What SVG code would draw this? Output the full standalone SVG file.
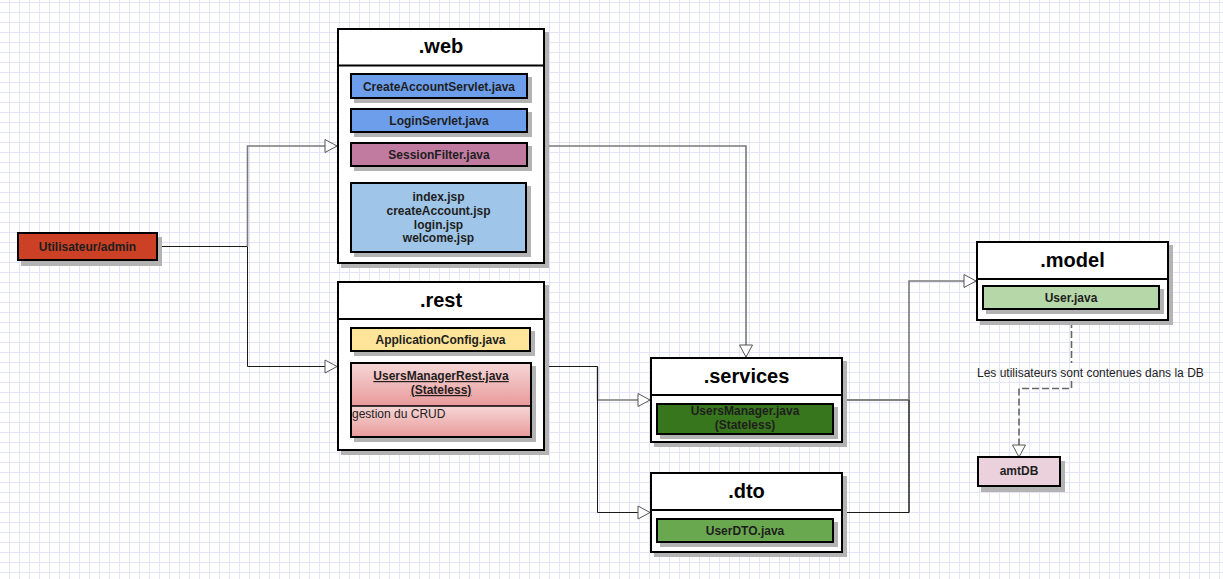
<svg xmlns="http://www.w3.org/2000/svg" width="1223" height="579" viewBox="0 0 1223 579">
<style>
.sh{fill:#b3b3b3}
.box{fill:#fff;stroke:#000;stroke-width:2}
.hl{stroke:#000;stroke-width:2}
.it{stroke:#000;stroke-width:2}
.hd{font-family:"Liberation Sans",Arial,sans-serif;font-weight:bold;font-size:20px;fill:#000;text-anchor:middle}
.t{font-family:"Liberation Sans",Arial,sans-serif;font-weight:bold;font-size:12px;fill:#1e1e1e;text-anchor:middle}
.r{font-family:"Liberation Sans",Arial,sans-serif;font-size:12px;fill:#222}
.cg{fill:none;stroke:#7a7a7a;stroke-width:1.6}
.cb{fill:none;stroke:#1a1a1a;stroke-width:1}
.cd{fill:none;stroke:#666;stroke-width:1.6;stroke-dasharray:7 3}
</style>
<defs>
<pattern id="grid" x="9" y="2" width="10" height="10" patternUnits="userSpaceOnUse">
<path d="M0.5,0 V10 M0,0.5 H10" stroke="#e4e4f8" stroke-width="1" fill="none"/>
</pattern>
<linearGradient id="pk" x1="0" y1="0" x2="0" y2="1">
<stop offset="0" stop-color="#f6d6d6"/>
<stop offset="1" stop-color="#e99a9a"/>
</linearGradient>
<marker id="ar" markerUnits="userSpaceOnUse" markerWidth="16" markerHeight="16" refX="13" refY="7.5" orient="auto" viewBox="0 0 16 16">
<path d="M1,1 L13,7.5 L1,14 Z" fill="#fff" stroke="#555" stroke-width="1"/>
</marker>
<mask id="lblgap" maskUnits="userSpaceOnUse" x="0" y="0" width="1223" height="579">
<rect width="1223" height="579" fill="#fff"/>
<rect x="1060" y="363" width="24" height="18" fill="#000"/>
</mask>
</defs>
<rect width="1223" height="579" fill="#fff"/>
<rect width="1223" height="579" fill="url(#grid)"/>

<g id="connectors">
<path class="cb" d="M157,246.5 H247.5 V366.5 H337" marker-end="url(#ar)"/>
<path class="cg" d="M247.5,246.5 V146 H337" marker-end="url(#ar)"/>
<path class="cg" d="M545,146 H746 V357" marker-end="url(#ar)"/>
<path class="cg" d="M597.5,366.5 V400 H650" marker-end="url(#ar)"/>
<path class="cb" d="M545,366.5 H597.5 V512.5 H650" marker-end="url(#ar)"/>
<path class="cg" d="M843,400 H909 V512.5"/>
<path class="cg" d="M843,400 H909 V281 H976" marker-end="url(#ar)"/>
<path class="cb" d="M843,512.5 H909 V400"/>
<path class="cd" d="M1071.5,321 V388.5 H1019 V457" marker-end="url(#ar)" mask="url(#lblgap)"/>
<text class="r" x="977" y="377">Les utilisateurs sont contenues dans la DB</text>
</g>

<g id="user">
<rect class="sh" x="21" y="237" width="141" height="29"/>
<rect class="it" x="18" y="233" width="139" height="27" fill="#cc4125"/>
<text class="t" x="87.5" y="251">Utilisateur/admin</text>
</g>

<g id="web">
<rect class="sh" x="341" y="32" width="208" height="236"/>
<rect class="box" x="338" y="29" width="206" height="234"/>
<line class="hl" x1="338" y1="65.5" x2="544" y2="65.5"/>
<text class="hd" x="441" y="53">.web</text>
<g id="createAccountServlet">
<rect class="sh" x="354" y="77" width="178" height="26"/>
<rect class="it" x="351" y="74" width="176" height="24" fill="#6d9eeb"/>
<text class="t" x="439" y="90.5">CreateAccountServlet.java</text>
</g>
<g id="loginServlet">
<rect class="sh" x="354" y="112" width="178" height="25"/>
<rect class="it" x="351" y="109" width="176" height="23" fill="#6d9eeb"/>
<text class="t" x="439" y="125">LoginServlet.java</text>
</g>
<g id="sessionFilter">
<rect class="sh" x="354" y="146" width="178" height="25"/>
<rect class="it" x="351" y="143" width="176" height="23" fill="#c27ba0"/>
<text class="t" x="439" y="159">SessionFilter.java</text>
</g>
<g id="jsp">
<rect class="sh" x="354" y="186" width="177" height="71"/>
<rect class="it" x="351" y="183" width="175" height="69" fill="#9fc5e8"/>
<text class="t" x="438.5" y="201">index.jsp</text>
<text class="t" x="438.5" y="214.8">createAccount.jsp</text>
<text class="t" x="438.5" y="228.6">login.jsp</text>
<text class="t" x="438.5" y="242.4">welcome.jsp</text>
</g>
</g>

<g id="rest">
<rect class="sh" x="341" y="285" width="208" height="170"/>
<rect class="box" x="338" y="282" width="206" height="168"/>
<line class="hl" x1="338" y1="319" x2="544" y2="319"/>
<text class="hd" x="441" y="307">.rest</text>
<g id="applicationConfig">
<rect class="sh" x="354" y="331" width="181" height="25"/>
<rect class="it" x="351" y="328" width="179" height="23" fill="#ffe599"/>
<text class="t" x="440.5" y="343.5">ApplicationConfig.java</text>
</g>
<g id="usersManagerRest">
<rect class="sh" x="354" y="366" width="182" height="76"/>
<rect x="351" y="363" width="180" height="43" fill="url(#pk)"/>
<rect x="351" y="406" width="180" height="31" fill="url(#pk)"/>
<rect x="351" y="363" width="180" height="74" fill="none" stroke="#000" stroke-width="2"/>
<line x1="351" y1="406" x2="531" y2="406" stroke="#000" stroke-width="1.5"/>
<text class="t" x="441" y="380" text-decoration="underline">UsersManagerRest.java</text>
<text class="t" x="441" y="394" text-decoration="underline">(Stateless)</text>
<text class="r" x="352" y="418">gestion du CRUD</text>
</g>
</g>

<g id="services">
<rect class="sh" x="654" y="361" width="193" height="86"/>
<rect class="box" x="651" y="358" width="191" height="84"/>
<line class="hl" x1="651" y1="395" x2="842" y2="395"/>
<text class="hd" x="746.5" y="383">.services</text>
<g id="usersManager">
<rect class="sh" x="660" y="407" width="178" height="32"/>
<rect class="it" x="657" y="404" width="176" height="30" fill="#38761d"/>
<text class="t" x="745" y="414.5">UsersManager.java</text>
<text class="t" x="745" y="428.5">(Stateless)</text>
</g>
</g>

<g id="dto">
<rect class="sh" x="654" y="476" width="193" height="81"/>
<rect class="box" x="651" y="473" width="191" height="79"/>
<line class="hl" x1="651" y1="510" x2="842" y2="510"/>
<text class="hd" x="746.5" y="497.5">.dto</text>
<g id="userDTO">
<rect class="sh" x="660" y="522" width="178" height="25"/>
<rect class="it" x="657" y="519" width="176" height="23" fill="#6aa84f"/>
<text class="t" x="745" y="534.5">UserDTO.java</text>
</g>
</g>

<g id="model">
<rect class="sh" x="980" y="245" width="193" height="80"/>
<rect class="box" x="977" y="242" width="191" height="78"/>
<line class="hl" x1="977" y1="279" x2="1168" y2="279"/>
<text class="hd" x="1072.5" y="267">.model</text>
<g id="userJava">
<rect class="sh" x="986" y="289" width="178" height="25"/>
<rect class="it" x="983" y="286" width="176" height="23" fill="#b6d7a8"/>
<text class="t" x="1071" y="302">User.java</text>
</g>
</g>

<g id="amtDB">
<rect class="sh" x="981" y="461" width="84" height="31"/>
<rect class="it" x="978" y="457" width="82" height="29" fill="#ead1dc"/>
<text class="t" x="1019" y="475">amtDB</text>
</g>
</svg>
